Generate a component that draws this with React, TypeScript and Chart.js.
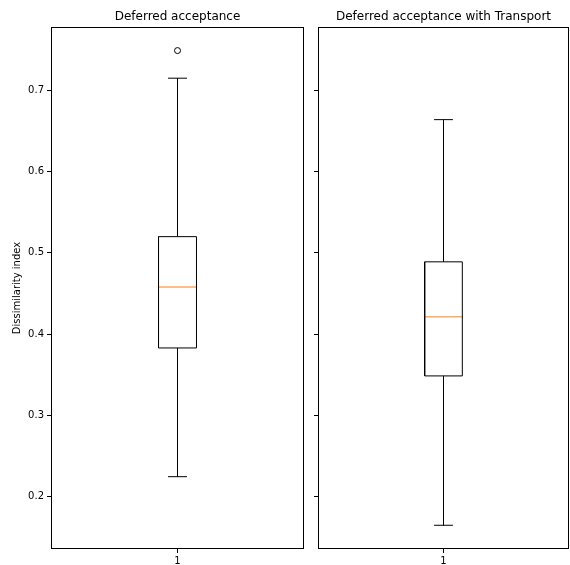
import React, { useEffect, useRef } from "react";
import { Chart, registerables } from "chart.js";

Chart.register(...registerables);

const groupTitles = ["Deferred acceptance", "Deferred acceptance with Transport"];
const categoryLabels = ["1"];
const whiskerLow = [0.2246, 0.1648];
const q1 = [0.383, 0.3486];
const medians = [0.458, 0.4213];
const q3 = [0.52, 0.489];
const whiskerHigh = [0.715, 0.664];
const outliers: number[][] = [[0.749], []];
const yTicks = [0.2, 0.3, 0.4, 0.5, 0.6, 0.7];
const yMin = 0.1356;
const yMax = 0.778;
const yTitle = "Dissimilarity index";

const FONT = "DejaVu Sans";
const BOX_HALF = 0.075;
const CAP_HALF = 0.0375;
const MEDIAN_COLOR = "#ff7f0e";

const framePlugin = {
  id: "frame",
  afterDraw(chart: any) {
    const { ctx, chartArea } = chart;
    ctx.save();
    ctx.strokeStyle = "#000";
    ctx.lineWidth = 1;
    const l = Math.round(chartArea.left) + 0.5;
    const t = Math.round(chartArea.top) + 0.5;
    const r = Math.round(chartArea.right) - 0.5;
    const b = Math.round(chartArea.bottom) - 0.5;
    ctx.strokeRect(l, t, r - l, b - t);
    ctx.restore();
  },
};

function seg(points: { x: number; y: number }[], color: string) {
  return {
    type: "scatter" as const,
    data: points,
    showLine: true,
    borderColor: color,
    borderWidth: 1,
    pointRadius: 0,
    tension: 0,
    fill: false,
  };
}

function BoxPanel({ index, left, width, yWidth, rightPad, showY }: any) {
  const ref = useRef<HTMLCanvasElement>(null);
  useEffect(() => {
    if (!ref.current) return;
    const c = 1;
    const datasets: any[] = [
      seg(
        [
          { x: c - BOX_HALF, y: q1[index] },
          { x: c + BOX_HALF, y: q1[index] },
          { x: c + BOX_HALF, y: q3[index] },
          { x: c - BOX_HALF, y: q3[index] },
          { x: c - BOX_HALF, y: q1[index] },
        ],
        "#000"
      ),
      seg([{ x: c, y: q3[index] }, { x: c, y: whiskerHigh[index] }], "#000"),
      seg([{ x: c, y: q1[index] }, { x: c, y: whiskerLow[index] }], "#000"),
      seg([{ x: c - CAP_HALF, y: whiskerHigh[index] }, { x: c + CAP_HALF, y: whiskerHigh[index] }], "#000"),
      seg([{ x: c - CAP_HALF, y: whiskerLow[index] }, { x: c + CAP_HALF, y: whiskerLow[index] }], "#000"),
      seg([{ x: c - BOX_HALF, y: medians[index] }, { x: c + BOX_HALF, y: medians[index] }], MEDIAN_COLOR),
      {
        type: "scatter",
        data: outliers[index].map((v) => ({ x: c, y: v })),
        showLine: false,
        pointRadius: 3,
        pointBackgroundColor: "rgba(0,0,0,0)",
        pointBorderColor: "#000",
        pointBorderWidth: 1,
      },
    ];
    const chart = new Chart(ref.current, {
      type: "scatter",
      data: { datasets },
      plugins: [framePlugin],
      options: {
        animation: false,
        responsive: false,
        devicePixelRatio: 1,
        layout: { padding: { left: 0, right: rightPad, top: 0, bottom: 0 } },
        plugins: {
          legend: { display: false },
          tooltip: { enabled: false },
          title: {
            display: true,
            text: groupTitles[index],
            color: "#000",
            fullSize: false,
            font: { family: FONT, size: 12, weight: "normal" },
            padding: { top: 10, bottom: 2.6 },
          },
        },
        scales: {
          x: {
            type: "linear",
            min: 0.5,
            max: 1.5,
            afterBuildTicks: (s: any) => {
              s.ticks = [{ value: 1 }];
            },
            afterFit: (s: any) => {
              s.height = 16;
            },
            ticks: {
              callback: () => categoryLabels[0],
              color: "#000",
              font: { family: FONT, size: 10 },
              padding: 2,
              maxRotation: 0,
              autoSkip: false,
            },
            grid: { drawOnChartArea: false, drawTicks: true, tickLength: 4, color: "#000" },
            border: { display: false },
          },
          y: {
            type: "linear",
            min: yMin,
            max: yMax,
            afterBuildTicks: (s: any) => {
              s.ticks = yTicks.map((v) => ({ value: v }));
            },
            afterFit: (s: any) => {
              s.width = yWidth;
            },
            ticks: {
              display: showY,
              callback: (v: any) => Number(v).toFixed(1),
              color: "#000",
              font: { family: FONT, size: 10 },
              padding: 3,
              autoSkip: false,
            },
            grid: { drawOnChartArea: false, drawTicks: true, tickLength: 4, color: "#000" },
            border: { display: false },
            title: {
              display: showY,
              text: yTitle,
              color: "#000",
              font: { family: FONT, size: 10 },
              padding: { top: 11, bottom: 0 },
            },
          },
        },
      } as any,
    });
    return () => chart.destroy();
  }, [index, left, width, yWidth, rightPad, showY]);
  return (
    <canvas
      ref={ref}
      width={width}
      height={565}
      style={{ position: "absolute", left, top: 0, width, height: 565 }}
    />
  );
}

export default function App() {
  return (
    <div style={{ position: "absolute", left: 0, top: 0, width: 570, height: 565, background: "#fff" }}>
      <BoxPanel index={0} left={0} width={311} yWidth={51} rightPad={7} showY={true} />
      <BoxPanel index={1} left={311} width={259} yWidth={7} rightPad={1} showY={false} />
    </div>
  );
}
